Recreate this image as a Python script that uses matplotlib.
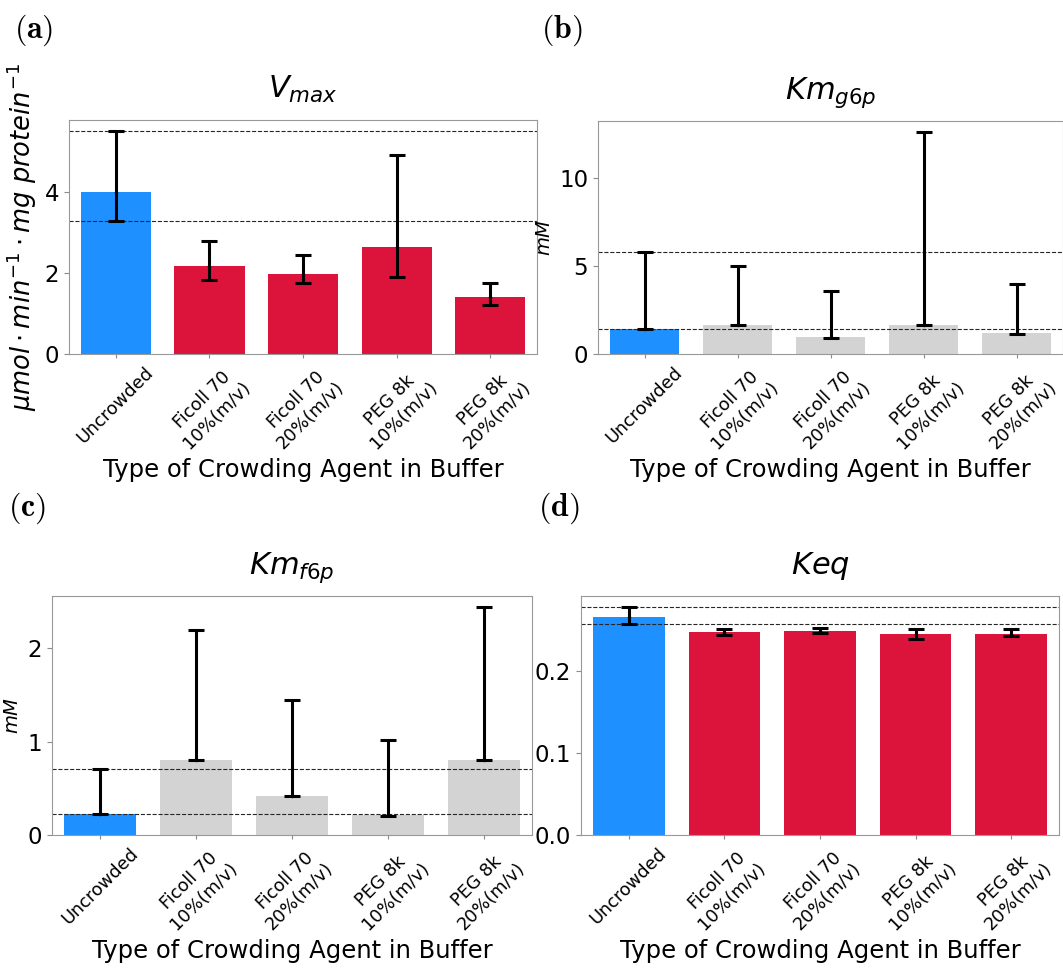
import matplotlib
matplotlib.use('Agg')
import matplotlib.pyplot as plt
import numpy as np

plt.rcParams['mathtext.fontset'] = 'dejavusans'

# categories
conditions = ['Uncrowded', 'Ficoll 70\n10%(m/v)', 'Ficoll 70\n20%(m/v)',
              'PEG 8k\n10%(m/v)', 'PEG 8k\n20%(m/v)']

# (a) Vmax
vmax_val = [4.00, 2.17, 1.99, 2.64, 1.41]
vmax_low = [3.30, 1.84, 1.75, 1.91, 1.21]
vmax_high = [5.51, 2.79, 2.44, 4.91, 1.75]

# (b) Km g6p
kmg_val = [1.43, 1.62, 0.96, 1.62, 1.20]
kmg_low = [1.43, 1.62, 0.93, 1.62, 1.16]
kmg_high = [5.81, 5.00, 3.57, 12.60, 3.95]

# (c) Km f6p
kmf_val = [0.22, 0.80, 0.42, 0.21, 0.80]
kmf_low = [0.22, 0.80, 0.42, 0.20, 0.80]
kmf_high = [0.71, 2.20, 1.45, 1.02, 2.44]

# (d) Keq
keq_val = [0.2664, 0.2477, 0.2494, 0.2457, 0.2460]
keq_low = [0.2574, 0.2445, 0.2473, 0.2388, 0.2425]
keq_high = [0.2780, 0.2510, 0.2530, 0.2513, 0.2522]

BLUE = '#1E90FF'
RED = '#DC143C'
GREY = '#D3D3D3'


def bar_panel(ax, vals, low, high, colors, title, ylabel, ylabel_size):
    x = np.arange(len(conditions))
    vals = np.array(vals)
    yerr = [vals - np.array(low), np.array(high) - vals]
    ax.bar(x, vals, width=0.75, color=colors, zorder=1)
    ax.errorbar(x, vals, yerr=yerr, fmt='.', color='black', markersize=3,
                elinewidth=2.2, capsize=6, capthick=2.2, zorder=3)
    ax.axhline(high[0], color='0.15', ls='--', lw=0.8, zorder=2)
    ax.axhline(low[0], color='0.15', ls='--', lw=0.8, zorder=2)
    ax.set_xlim(-0.5, len(conditions) - 0.5)
    ax.set_ylim(0, max(high) * 1.05)
    ax.set_xticks(x)
    ax.set_xticklabels(conditions, rotation=45, ha='center', fontsize=12.8)
    ax.set_title(title, fontsize=22, pad=16)
    ax.set_ylabel(ylabel, fontsize=ylabel_size)
    ax.set_xlabel('Type of Crowding Agent in Buffer', fontsize=17.5)
    ax.tick_params(axis='y', labelsize=16.5, colors='0.55', labelcolor='black')
    ax.tick_params(axis='x', colors='0.55', labelcolor='black', length=3)
    for s in ax.spines.values():
        s.set_color('0.6')


W, H = 1063, 972
fig = plt.figure(figsize=(W / 100, H / 100), dpi=100)


def px_axes(left, top, right, bottom):
    return fig.add_axes([left / W, 1 - bottom / H, (right - left) / W,
                         (bottom - top) / H])


ax_a = px_axes(69, 120, 537, 354)
ax_b = px_axes(598, 121, 1063, 354)
ax_c = px_axes(52, 596, 532, 835)
ax_d = px_axes(581, 596, 1059, 835)

bar_panel(ax_a, vmax_val, vmax_low, vmax_high, [BLUE] + [RED] * 4,
          r'$V_{max}$',
          r'$\mu mol \cdot min^{-1} \cdot mg\ protein^{-1}$', 18.5)
bar_panel(ax_b, kmg_val, kmg_low, kmg_high, [BLUE] + [GREY] * 4,
          r'$Km_{g6p}$', r'$mM$', 14)
bar_panel(ax_c, kmf_val, kmf_low, kmf_high, [BLUE] + [GREY] * 4,
          r'$Km_{f6p}$', r'$mM$', 14)
bar_panel(ax_d, keq_val, keq_low, keq_high, [BLUE] + [RED] * 4,
          r'$Keq$', '', 14)
ax_d.set_yticks([0.0, 0.1, 0.2])

for lbl, xx, yy in [('(a)', 14, 30), ('(b)', 541, 30), ('(c)', 8, 508), ('(d)', 538, 508)]:
    fig.text(xx / W, 1 - yy / H, r'$\mathbf{' + lbl + '}$', fontsize=23,
             va='center', ha='left', math_fontfamily='cm')

fig.savefig('out.png', dpi=100)
